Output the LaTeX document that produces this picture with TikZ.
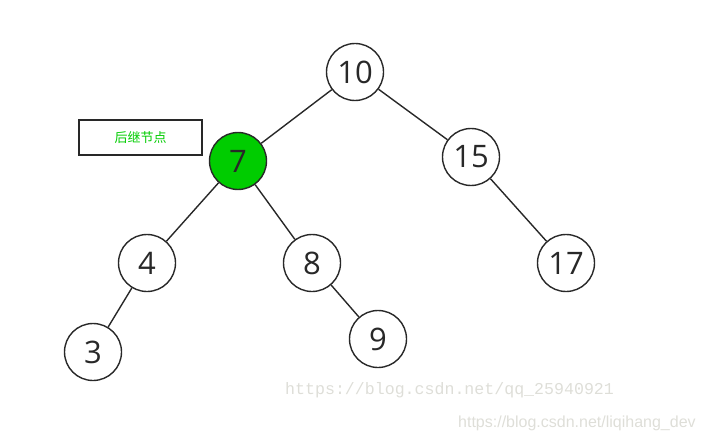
\documentclass[tikz,border=0pt]{standalone}
\usepackage{fontspec}
\setmainfont{Open Sans}
\newfontfamily\cjk{Noto Sans CJK SC}
\newfontfamily\wmmono{Liberation Mono}
\newfontfamily\wmsans{Liberation Sans}
\definecolor{linegray}{RGB}{40,40,40}
\definecolor{nodegreen}{RGB}{0,204,0}
\definecolor{wmgray}{RGB}{222,222,216}
\begin{document}
\begin{tikzpicture}[x=1pt,y=-1pt,
  tnode/.style={circle,draw=linegray,line width=1.4pt,minimum size=57pt,inner sep=0pt,
    font=\fontsize{31}{31}\selectfont,text=linegray},
  edge/.style={draw=linegray,line width=1.4pt}]
\useasboundingbox (0,0) rectangle (704,441);
\node[tnode] (n10) at (355,72) {10};
\node[tnode,fill=nodegreen] (n7) at (238,161) {7};
\node[tnode] (n15) at (471,157) {15};
\node[tnode] (n4) at (147,263) {4};
\node[tnode] (n8) at (312,263) {8};
\node[tnode] (n17) at (566,263) {17};
\node[tnode] (n3) at (93,352) {3};
\node[tnode] (n9) at (378,339) {9};
\path[edge] (n10) -- (n7);
\path[edge] (n10) -- (n15);
\path[edge] (n7) -- (n4);
\path[edge] (n7) -- (n8);
\path[edge] (n15) -- (n17);
\path[edge] (n4) -- (n3);
\path[edge] (n8) -- (n9);
\node[draw=linegray,line width=1.4pt,minimum width=123pt,minimum height=35pt,inner sep=0pt,
  font=\cjk\fontsize{13}{13}\selectfont,text=nodegreen] (lbl) at (140.5,137.5) {后继节点};
\node[anchor=west,inner sep=0pt,font=\wmmono\fontsize{16.6}{16.6}\selectfont,text=wmgray] (wm1) at (285,390) {https://blog.csdn.net/qq\_25940921};
\node[anchor=west,inner sep=0pt,font=\wmsans\fontsize{16}{16}\selectfont,text=wmgray] (wm2) at (458,423) {https://blog.csdn.net/liqihang\_dev};
\end{tikzpicture}
\end{document}
